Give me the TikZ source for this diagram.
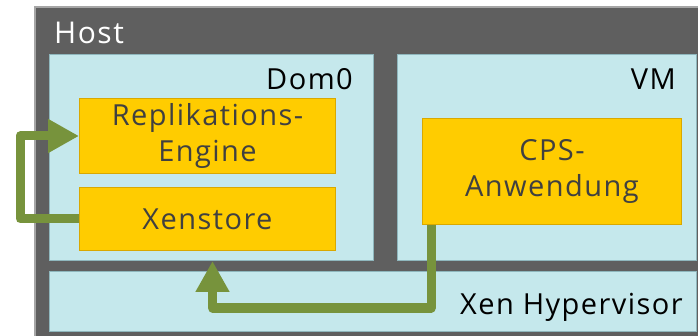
\documentclass[tikz,border=0pt]{standalone}
\usepackage{fontspec}
\setmainfont{Open Sans}[LetterSpace=5]
\usetikzlibrary{arrows.meta}
\definecolor{hostgray}{HTML}{5F5F5F}
\definecolor{domblue}{HTML}{C5E8EC}
\definecolor{domedge}{HTML}{8FB7BD}
\definecolor{boxyellow}{HTML}{FFCC00}
\definecolor{boxedge}{HTML}{D9A800}
\definecolor{flowgreen}{HTML}{77933C}
\definecolor{textgray}{HTML}{404040}
\tikzset{
  dombox/.style={draw=domedge,line width=1pt,fill=domblue,anchor=north west,inner sep=0pt},
  compbox/.style={draw=boxedge,line width=1pt,fill=boxyellow,anchor=north west,inner sep=0pt,
    align=center,text=textgray,font=\fontsize{29}{36}\selectfont},
  domlabel/.style={font=\fontsize{29}{34}\selectfont,anchor=base east,inner sep=0pt},
  flow/.style={draw=flowgreen,line width=9pt,line join=round,-{Triangle[length=31pt,width=32pt]}}
}
\begin{document}
\begin{tikzpicture}[x=1pt,y=-1pt]
  \useasboundingbox (0,0) rectangle (698,336);
  \clip (0,0) rectangle (698,336);
  % host frame
  \node[draw=gray!70,line width=2pt,fill=hostgray,anchor=north west,inner sep=0pt,
    minimum width=700pt,minimum height=345pt] (host) at (34,6) {};
  \node[anchor=base west,inner sep=0pt,text=white,font=\fontsize{30}{36}\selectfont] (hostlbl) at (54,44) {Host};
  % domains
  \node[dombox,minimum width=324pt,minimum height=206pt] (dom0) at (49,54) {};
  \node[dombox,minimum width=299pt,minimum height=206pt] (vm) at (397,54) {};
  \node[dombox,minimum width=647pt,minimum height=60pt] (hyp) at (49,271) {};
  \node[domlabel] (dom0lbl) at (353,90) {Dom0};
  \node[domlabel] (vmlbl) at (676,90) {VM};
  \node[domlabel] (hyplbl) at (683,314) {Xen Hypervisor};
  % components
  \node[compbox,minimum width=256pt,minimum height=75pt] (eng) at (79,98) {Replikations-\\Engine};
  \node[compbox,minimum width=256pt,minimum height=63pt] (xs) at (79,187) {Xenstore};
  \node[compbox,minimum width=259pt,minimum height=106pt] (cps) at (422,118) {CPS-\\Anwendung};
  % flows
  \coordinate (bend) at (431,308);
  \draw[flow] (xs.west) -- ++(-59,0) |- (eng.west);
  \draw[flow] ([xshift=9pt]cps.south west) -- (bend) -| ([xshift=5pt]dom0.south -| xs.south);
\end{tikzpicture}
\end{document}
